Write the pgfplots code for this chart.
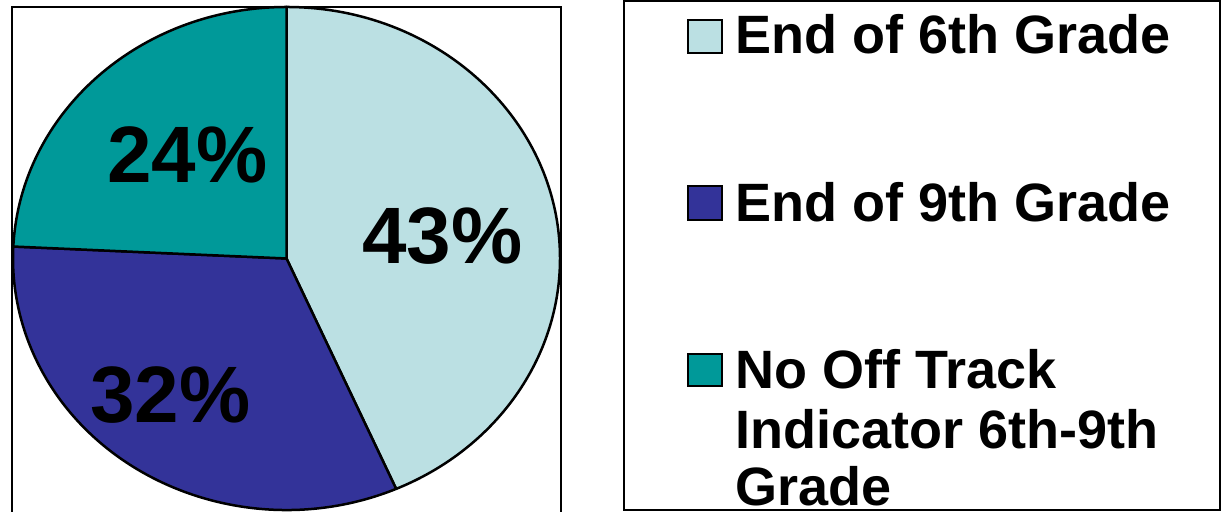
\documentclass[border=0pt]{standalone}
\usepackage{pgfplots}
\pgfplotsset{compat=1.18}
\usepackage{fontspec}
\setmainfont{Liberation Sans}
\definecolor{cA}{RGB}{187,224,227}
\definecolor{cB}{RGB}{51,51,153}
\definecolor{cC}{RGB}{0,153,153}
\begin{document}
\begin{tikzpicture}[x=1bp,y=1bp]
\useasboundingbox (0,0) rectangle (1224,512);
\clip (0,0) rectangle (1224,512);
\fill[white] (0,0) rectangle (1224,512);
\draw[line width=2.5bp] (12,-20) rectangle (561,505);
\draw[line width=2.5bp] (624,2) rectangle (1220,511);
% data (percent)
\def\vA{43}\def\vB{32}\def\vC{24}
\pgfmathsetmacro\tot{\vA+\vB+\vC}
\pgfmathsetmacro\aA{90-360*\vA/\tot}
\pgfmathsetmacro\aB{\aA-360*\vB/\tot}
\pgfmathsetmacro\aC{\aB-360*\vC/\tot}
\begin{axis}[hide axis, scale only axis, width=547bp, height=503bp,
  xmin=-1, xmax=1, ymin=-1, ymax=1, at={(286.5bp,253.5bp)}, anchor=center, clip=false]
\filldraw[fill=cA, draw=black, line width=2.5bp, line join=round]
  (axis cs:0,0) -- (axis cs:0,1) arc[start angle=90, end angle=\aA, x radius=273.5bp, y radius=251.5bp] -- cycle;
\filldraw[fill=cB, draw=black, line width=2.5bp, line join=round]
  (axis cs:0,0) -- (axis cs:{cos(\aA)},{sin(\aA)}) arc[start angle=\aA, end angle=\aB, x radius=273.5bp, y radius=251.5bp] -- cycle;
\filldraw[fill=cC, draw=black, line width=2.5bp, line join=round]
  (axis cs:0,0) -- (axis cs:{cos(\aB)},{sin(\aB)}) arc[start angle=\aB, end angle=\aC, x radius=273.5bp, y radius=251.5bp] -- cycle;
\node[font=\fontsize{80bp}{90bp}\selectfont\bfseries, anchor=base, inner sep=0] at (axis cs:0.570,-0.018) {\vA\%};
\node[font=\fontsize{80bp}{90bp}\selectfont\bfseries, anchor=base, inner sep=0] at (axis cs:-0.424,-0.654) {\vB\%};
\node[font=\fontsize{80bp}{90bp}\selectfont\bfseries, anchor=base, inner sep=0] at (axis cs:-0.362,0.304) {\vC\%};
\end{axis}
% legend
\tikzset{lt/.style={font=\fontsize{54bp}{60bp}\selectfont\bfseries, anchor=base west, inner sep=0}}
\filldraw[fill=cA, draw=black, line width=2bp] (688,459) rectangle (722,492);
\node[lt] at (735,458) {End of 6th Grade};
\filldraw[fill=cB, draw=black, line width=2bp] (688,292) rectangle (722,326);
\node[lt] at (735,290) {End of 9th Grade};
\filldraw[fill=cC, draw=black, line width=2bp] (688,126) rectangle (722,158);
\node[lt] at (735,123) {No Off Track};
\node[lt] at (735,63) {Indicator 6th-9th};
\node[lt] at (735,6) {Grade};
\end{tikzpicture}
\end{document}
